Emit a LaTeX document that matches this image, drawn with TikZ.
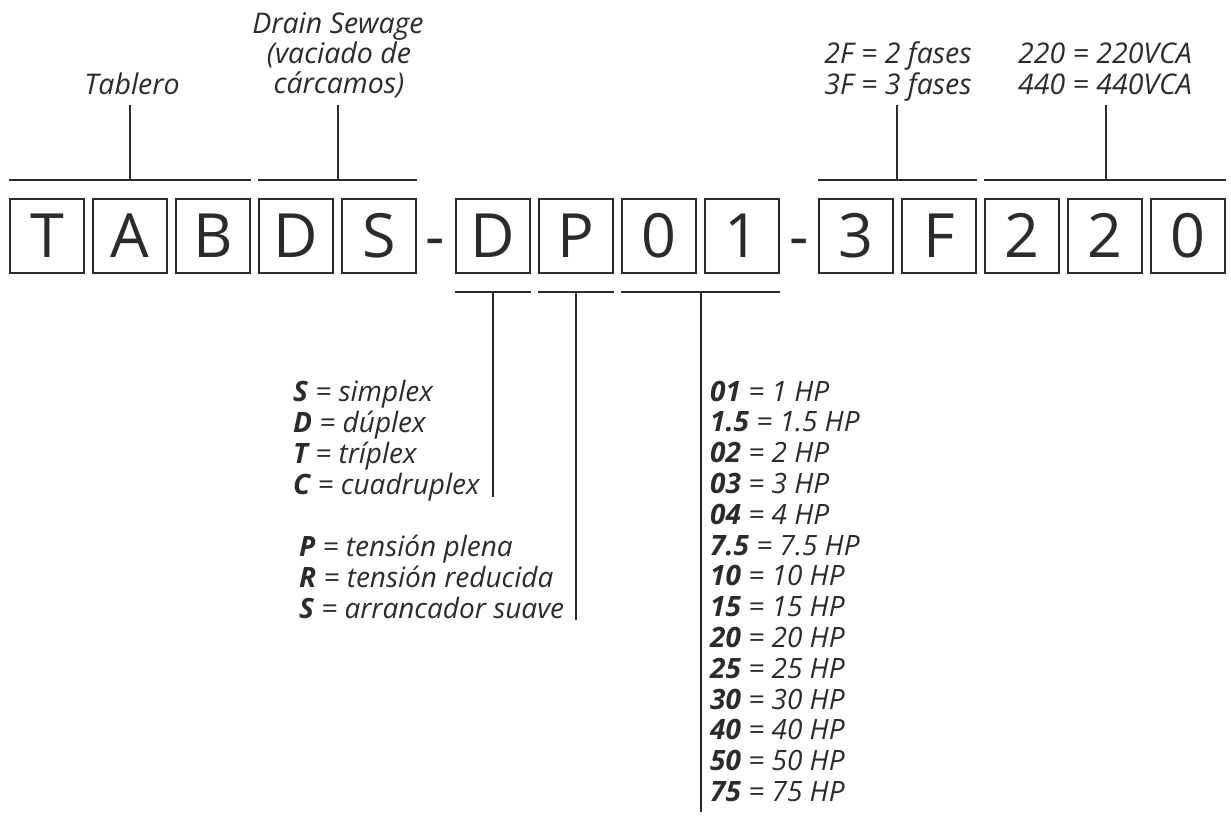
\documentclass[tikz,border=0pt]{standalone}
\usepackage{fontspec}
\setmainfont{Open Sans}
\usetikzlibrary{calc}
\definecolor{ink}{HTML}{2B2B2B}
\tikzset{
  box/.style={draw=ink, line width=1.8pt, minimum size=74.5pt, inner sep=0pt, text=ink,
    font=\fontsize{61}{61}\selectfont, text height=43.5pt, text depth=0pt},
  dashmark/.style={text=ink, inner sep=0pt, anchor=base, font=\fontsize{60}{60}\selectfont},
  toplbl/.style={text=ink, inner sep=0pt, anchor=base, font=\fontsize{28.5}{30}\selectfont\itshape},
  lst/.style={text=ink, inner sep=0pt, anchor=base west, font=\fontsize{28}{30}\selectfont\itshape},
  rule/.style={draw=ink, line width=1.8pt},
}
\begin{document}
\begin{tikzpicture}[x=1pt,y=-1pt]
\useasboundingbox (0,0) rectangle (1231,820);
% boxes
\foreach \c/\xx [count=\i] in {T/47,A/130,B/213,D/296,S/379}
  \node[box] (a\i) at (\xx,236) {\c};
\foreach \c/\xx [count=\i] in {D/493,P/576,0/659,1/742}
  \node[box] (b\i) at (\xx,236) {\c};
\foreach \c/\xx [count=\i] in {3/856,F/939,2/1022,2/1105,0/1188}
  \node[box] (c\i) at (\xx,236) {\c};
\node[dashmark] (h1) at (435.5,257) {-};
\node[dashmark] (h2) at (799,257) {-};
% top labels
\node[toplbl] (tab) at (132,94) {Tablero};
\node[toplbl] (ds1) at (338,33) {Drain Sewage};
\node[toplbl] (ds2) at (339,63) {(vaciado de};
\node[toplbl] (ds3) at (339,93) {cárcamos)};
\node[toplbl] (f1) at (898,63) {2F = 2 fases};
\node[toplbl] (f2) at (898,94) {3F = 3 fases};
\node[toplbl] (v1) at (1105,63) {220 = 220VCA};
\node[toplbl] (v2) at (1105,94) {440 = 440VCA};
% top brackets
\coordinate (tA) at (130,105);
\coordinate (tB) at (338,105);
\coordinate (tC) at (897,105);
\coordinate (tD) at (1106,105);
\draw[rule] ([yshift=18pt]a1.north west) coordinate (pA) -- ([yshift=18pt]a3.north east);
\draw[rule] ([yshift=18pt]a4.north west) coordinate (pB) -- ([yshift=18pt]a5.north east);
\draw[rule] ([yshift=18pt]c1.north west) coordinate (pC) -- ([yshift=18pt]c2.north east);
\draw[rule] ([yshift=18pt]c3.north west) coordinate (pD) -- ([yshift=18pt]c5.north east);
\draw[rule] (tA) -- (tA |- pA);
\draw[rule] (tB) -- (tB |- pB);
\draw[rule] (tC) -- (tC |- pC);
\draw[rule] (tD) -- (tD |- pD);
% bottom brackets
\draw[rule] ([yshift=-18pt]b1.south west) coordinate (qA) -- ([yshift=-18pt]b1.south east);
\draw[rule] ([yshift=-18pt]b2.south west) coordinate (qB) -- ([yshift=-18pt]b2.south east);
\draw[rule] ([yshift=-18pt]b3.south west) coordinate (qC) -- ([yshift=-18pt]b4.south east);
\coordinate (eA) at (493,497);
\coordinate (eB) at (576,620);
\coordinate (eC) at (701,812);
\draw[rule] (eA |- qA) -- (eA);
\draw[rule] (eB |- qB) -- (eB);
\draw[rule] (eC |- qC) -- (eC);
% lists
\node[lst] (s1) at (293,401) {\textbf{S} = simplex};
\node[lst] (s2) at (293,432) {\textbf{D} = dúplex};
\node[lst] (s3) at (293,463) {\textbf{T} = tríplex};
\node[lst] (s4) at (293,494) {\textbf{C} = cuadruplex};
\node[lst] (p1) at (299,556) {\textbf{P} = tensión plena};
\node[lst] (p2) at (299,587) {\textbf{R} = tensión reducida};
\node[lst] (p3) at (299,618) {\textbf{S} = arrancador suave};
\foreach \k/\v [count=\i] in {01/1,1.5/1.5,02/2,03/3,04/4,7.5/7.5,10/10,15/15,20/20,25/25,30/30,40/40,50/50,75/75}
  \node[lst] (hp\i) at (710,{401+(\i-1)*30.8}) {\textbf{\k} = \v\ HP};
\end{tikzpicture}
\end{document}
